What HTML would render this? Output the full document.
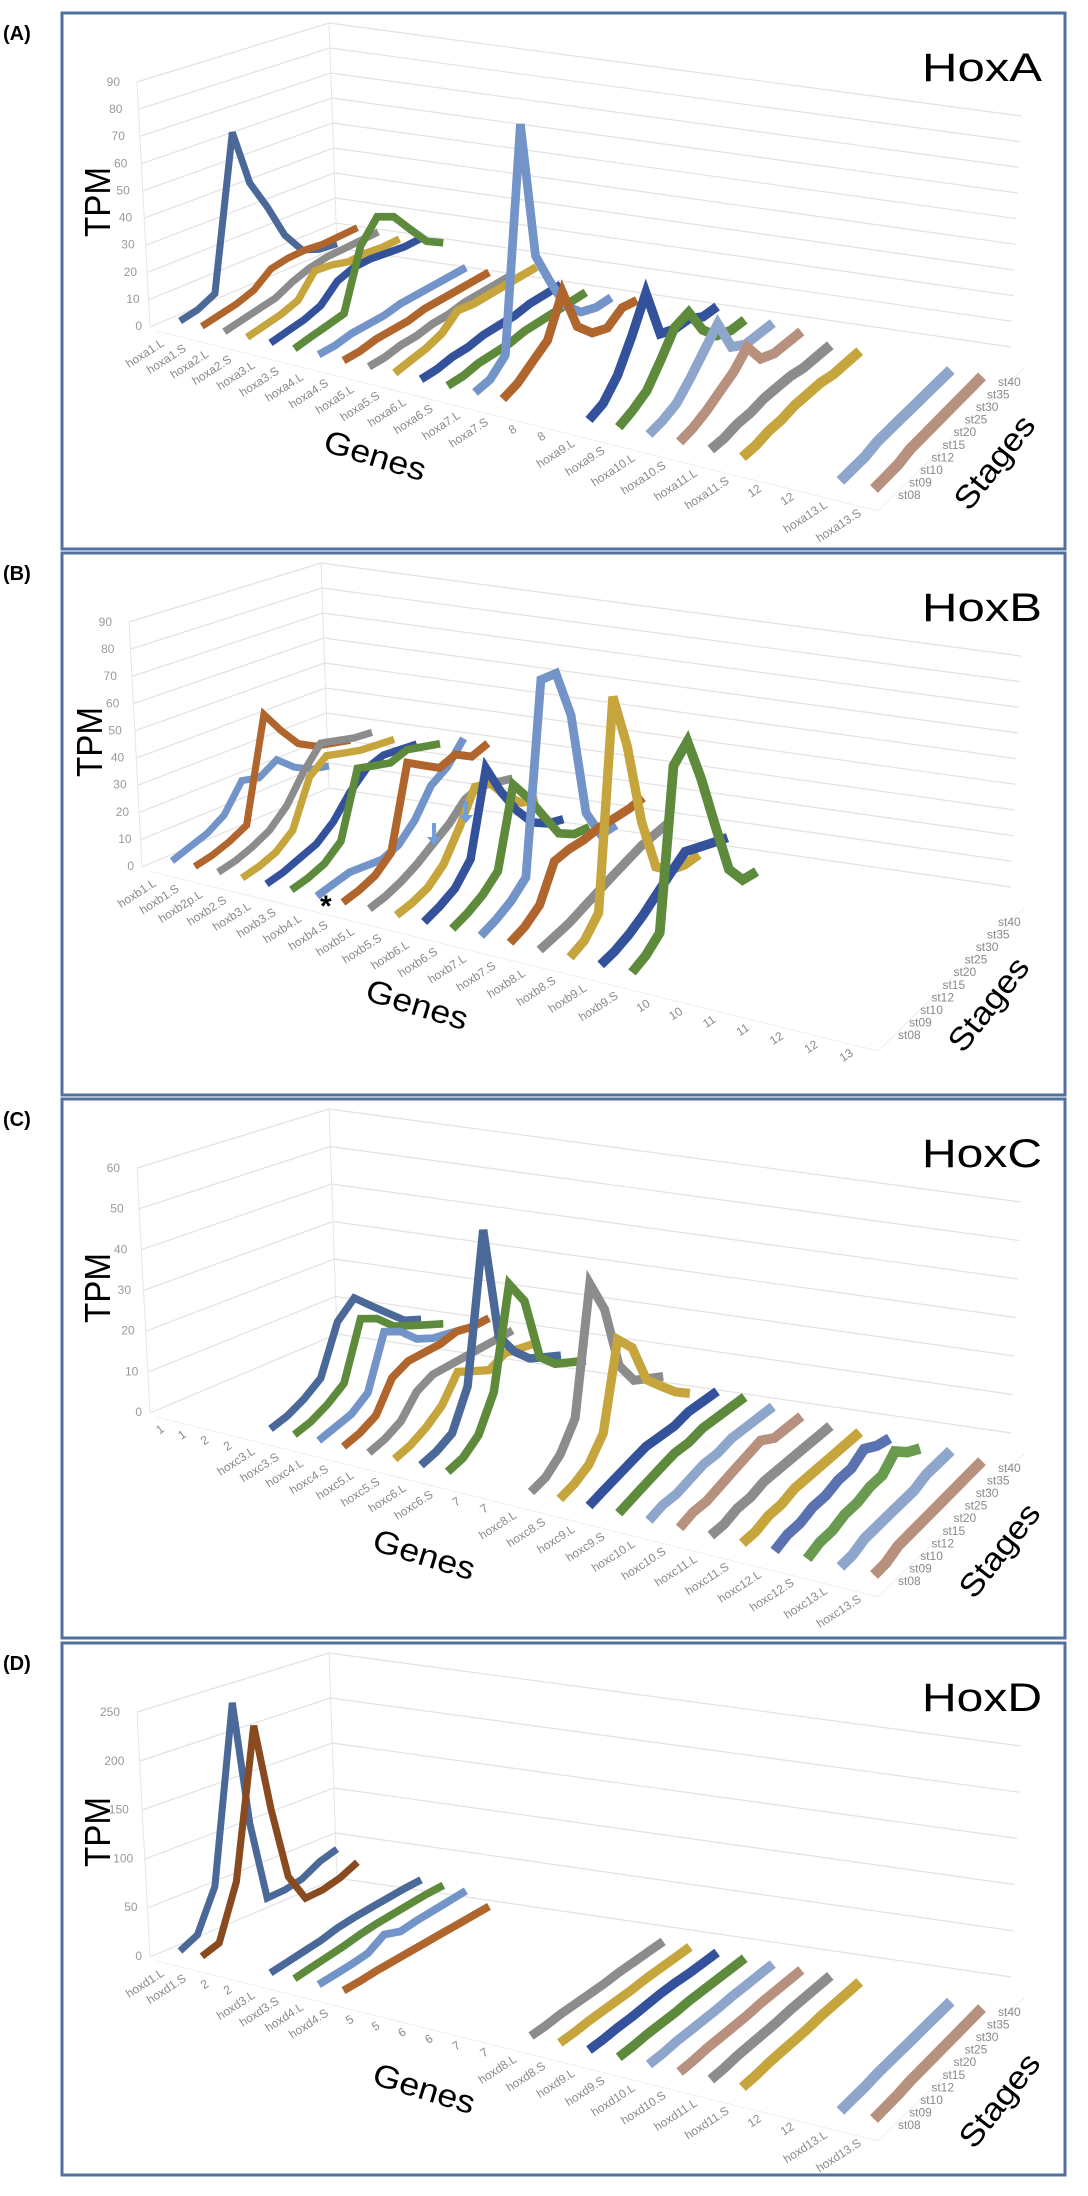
<!DOCTYPE html>
<html><head><meta charset="utf-8">
<style>
html,body{margin:0;padding:0;background:#fff;}
svg{display:block;font-family:"Liberation Sans",sans-serif;}
</style></head>
<body>
<svg id="fig" width="1088" height="2196" viewBox="0 0 1088 2196" xmlns="http://www.w3.org/2000/svg"></svg>
<script>
// ---------- data ----------
const stages = ['st08','st09','st10','st12','st15','st20','st25','st30','st35','st40'];

const genesA = ['hoxa1.L','hoxa1.S','hoxa2.L','hoxa2.S','hoxa3.L','hoxa3.S','hoxa4.L','hoxa4.S','hoxa5.L','hoxa5.S','hoxa6.L','hoxa6.S','hoxa7.L','hoxa7.S','8','8','hoxa9.L','hoxa9.S','hoxa10.L','hoxa10.S','hoxa11.L','hoxa11.S','12','12','hoxa13.L','hoxa13.S'];
const ticksA = [0,10,20,30,40,50,60,70,80,90];
const valuesA = [
 [0,1,4,62,40,28,14,5,2,1],
 [0,1,2,4,9,10,10,9,9,9],
 [0,1,2,3,6,8,9,9,9,9],
 [0,1,2,4,12,11,9,9,8,8],
 [0,1,2,4,10,12,12,11,10,10],
 [0,1,2,3,25,33,30,22,14,10],
 [0,0,1,1,1,2,2,2,2,2],
 [0,0,1,1,1,2,2,2,2,2],
 [0,0,1,1,2,2,3,3,3,3],
 [0,1,2,4,9,8,8,8,8,8],
 [0,0,1,1,2,2,2,3,3,3],
 [0,0,1,1,1,2,2,2,2,2],
 [0,1,6,85,35,22,10,4,2,2],
 [0,2,6,10,24,8,2,0,4,3],
 null,null,
 [0,2,8,18,30,12,10,10,7,7],
 [0,2,5,12,20,22,12,6,4,4],
 [0,1,3,8,14,20,8,5,5,5],
 [0,1,3,6,9,14,6,4,4,4],
 [0,0,1,1,2,2,2,1,1,1],
 [0,0,1,1,2,2,2,1,1,1],
 null,null,
 [0,0,0,1,1,1,1,1,1,1],
 [0,0,0,1,1,1,1,1,1,1]
];

const genesB = ['hoxb1.L','hoxb1.S','hoxb2p.L','hoxb2.S','hoxb3.L','hoxb3.S','hoxb4.L','hoxb4.S','hoxb5.L','hoxb5.S','hoxb6.L','hoxb6.S','hoxb7.L','hoxb7.S','hoxb8.L','hoxb8.S','hoxb9.L','hoxb9.S','10','10','11','11','12','12','13'];
const ticksB = [0,10,20,30,40,50,60,70,80,90];
const valuesB = [
 [0,2,4,8,18,16,20,14,10,8],
 [0,1,3,6,45,36,28,24,22,20],
 [0,1,3,6,12,22,30,28,26,25],
 [0,1,3,8,25,30,28,26,25,24],
 [0,1,3,5,10,18,24,26,25,24],
 [0,1,3,8,32,30,28,30,28,26],
 [0,1,2,1,0,2,8,18,22,30],
 [0,1,3,8,38,34,30,32,28,30],
 [0,1,3,6,10,14,20,22,20,18],
 [0,1,3,8,18,30,28,20,14,12],
 [0,2,5,12,42,30,20,12,8,6],
 [0,2,5,10,38,30,20,10,6,5],
 [0,2,5,10,78,78,60,20,8,8],
 [0,2,6,18,19,19,20,20,20,21],
 [0,1,2,4,6,8,10,12,13,14],
 [0,2,8,80,60,30,10,5,3,3],
 [0,1,3,6,10,14,18,16,14,12],
 [0,2,6,60,66,50,30,10,2,1],
 null,null,null,null,null,null,null
];

const genesC = ['1','1','2','2','hoxc3.L','hoxc3.S','hoxc4.L','hoxc4.S','hoxc5.L','hoxc5.S','hoxc6.L','hoxc6.S','7','7','hoxc8.L','hoxc8.S','hoxc9.L','hoxc9.S','hoxc10.L','hoxc10.S','hoxc11.L','hoxc11.S','hoxc12.L','hoxc12.S','hoxc13.L','hoxc13.S'];
const ticksC = [0,10,20,30,40,50,60];
const valuesC = [
 null,null,null,null,
 [0,1,3,6,18,22,18,14,10,8],
 [0,1,3,6,20,18,14,12,10,8],
 [0,1,2,5,18,16,12,10,9,8],
 [0,1,3,10,12,12,12,13,12,12],
 [0,1,3,8,10,10,10,10,10,10],
 [0,1,3,6,12,10,8,10,9,8],
 [0,1,3,12,48,20,14,10,8,6],
 [0,1,4,12,36,30,14,10,8,6],
 null,null,
 [0,1,4,10,40,32,16,10,8,6],
 [0,1,3,8,28,24,14,10,6,3],
 [0,1,2,3,4,4,4,5,5,5],
 [0,1,2,3,4,4,5,5,5,5],
 [0,1,1,2,3,3,4,4,4,4],
 [0,1,1,2,3,4,5,3,3,3],
 [0,0,1,1,2,2,2,2,2,2],
 [0,0,1,1,2,2,2,2,2,2],
 [0,1,1,2,2,3,3,5,3,2],
 [0,1,1,2,2,3,3,6,3,1],
 [0,0,1,1,1,1,1,2,2,2],
 [0,0,1,1,1,1,1,1,1,1]
];

const genesD = ['hoxd1.L','hoxd1.S','2','2','hoxd3.L','hoxd3.S','hoxd4.L','hoxd4.S','5','5','6','6','7','7','hoxd8.L','hoxd8.S','hoxd9.L','hoxd9.S','hoxd10.L','hoxd10.S','hoxd11.L','hoxd11.S','12','12','hoxd13.L','hoxd13.S'];
const ticksD = [0,50,100,150,200,250];
const valuesD = [
 [0,8,50,235,100,12,12,15,25,30],
 [0,5,60,215,120,40,8,8,12,20],
 null,null,
 [0,2,4,6,10,12,13,14,15,15],
 [0,2,4,6,9,11,12,13,14,14],
 [0,1,2,4,14,8,10,11,12,13],
 [0,0,1,1,1,1,1,1,1,1],
 null,null,null,null,null,null,
 [0,0,1,1,1,1,2,2,2,2],
 [0,0,1,1,1,1,2,2,2,2],
 [0,0,1,1,2,3,3,2,2,2],
 [0,0,1,1,1,2,2,2,2,2],
 [0,0,1,1,1,1,2,2,2,2],
 [0,0,1,1,1,1,2,2,2,2],
 [0,0,1,1,1,1,2,2,2,2],
 [0,0,1,1,1,1,2,2,2,2],
 null,null,
 [0,0,0,1,1,1,1,1,1,1],
 [0,0,0,1,1,1,1,1,1,1]
];

// ---------- styles ----------
const NAVY='#4A6898',ORG='#B0652C',GRY='#8C8C8C',GLD='#C6A53C',BLU='#34529C',GRN='#5E8A3C',LBL='#7394C8',SAL='#B8907E',LB2='#8FA6CC';
const colorsA=[NAVY,ORG,GRY,GLD,BLU,GRN,LBL,ORG,GRY,GLD,BLU,GRN,LBL,ORG,null,null,BLU,GRN,LB2,SAL,GRY,GLD,null,null,LB2,SAL];
const colorsB=[LBL,ORG,GRY,GLD,BLU,GRN,LBL,ORG,GRY,GLD,BLU,GRN,LBL,ORG,GRY,GLD,BLU,GRN];
const colorsC=[null,null,null,null,NAVY,GRN,LBL,ORG,GRY,GLD,NAVY,GRN,null,null,GRY,GLD,BLU,GRN,LB2,SAL,GRY,GLD,'#5A72B0','#6A9A50',LB2,SAL];
const colorsD=[NAVY,'#8A4A20',null,null,NAVY,GRN,LBL,ORG,null,null,null,null,null,null,GRY,GLD,BLU,GRN,LB2,SAL,GRY,GLD,null,null,LB2,SAL];

const panels=[
 {key:'a',label:'(A)',title:'HoxA',top:13,h:536,genes:genesA,vals:valuesA,cols:colorsA,ticks:ticksA,dx:0,genesPos:[372,443],stagesPos:[995,450]},
 {key:'b',label:'(B)',title:'HoxB',top:553,h:542,genes:genesB,vals:valuesB,cols:colorsB,ticks:ticksB,dx:-8,genesPos:[414,452],stagesPos:[989,452]},
 {key:'c',label:'(C)',title:'HoxC',top:1099,h:539,genes:genesC,vals:valuesC,cols:colorsC,ticks:ticksC,dx:0,genesPos:[421,456],stagesPos:[1000,452]},
 {key:'d',label:'(D)',title:'HoxD',top:1643,h:532,genes:genesD,vals:valuesD,cols:colorsD,ticks:ticksD,dx:0,genesPos:[421,446],stagesPos:[1000,458]}
];

// ---------- geometry ----------
const FL=[180,308],FR=[874,476],BL=[337,233],BR=[982,366];
const L0=[165,332],L1=[862,502];
const SV='http://www.w3.org/2000/svg';
const svg=document.getElementById('fig');
function mk(tag,attrs,parent){const e=document.createElementNS(SV,tag);for(const k in attrs)e.setAttribute(k,attrs[k]);(parent||svg).appendChild(e);return e;}
function lerp(a,b,t){return [a[0]+(b[0]-a[0])*t,a[1]+(b[1]-a[1])*t];}
function ln(a,b,t){return a+(b-a)*t;}
function ease(u){return u*0.78+0.22*u*u;}
function project(i,n,s,v,ymax,top,dx){
  const up=ease(i/(n-1));
  const F=lerp(FL,FR,up),B=lerp(BL,BR,up),t=s/(stages.length-1);
  const base=lerp(F,B,t);
  const m=ln(ln(1,1.2,up),ln(0.92,0.95,up),t);
  return [base[0]+dx, top+base[1]-v*m*244/ymax];
}

panels.forEach(p=>{
  const g=mk('g',{});
  
  
  const T=p.top, dx=p.dx;
  const border=mk('rect',{x:62,y:T,width:1003,height:p.h,fill:'none',stroke:'#52709C','stroke-width':3},g);
  
  
  const lab=mk('text',{x:3,y:T+27,'font-size':20,'font-weight':'bold',fill:'#000'},g);
  lab.textContent=p.label;
  
  
  const ttl=mk('text',{x:1042,y:T+68,'font-size':40,'text-anchor':'end',fill:'#000',textLength:120,lengthAdjust:'spacingAndGlyphs'},g);
  ttl.textContent=p.title;
  
  

  const n=p.ticks.length-1, ymax=p.ticks[n];
  const grid=mk('g',{stroke:'#e2e2e2','stroke-width':1.2,fill:'none'},g);
  
  
  p.ticks.forEach((tv,k)=>{
    const f=tv/ymax;
    const pf=lerp([150+dx,T+314],[137+dx,T+69],f);
    const pb=lerp([337+dx,T+235],[329+dx,T+10],f);
    const pr=lerp([1011,T+334],[1021,T+103],f);
    const gl=mk('polyline',{points:pf.join(',')+' '+pb.join(',')+' '+pr.join(',')},grid);
    
    
    const tp=lerp([142+dx,T+317],[120+dx,T+73],f);
    const tl=mk('text',{x:tp[0],y:tp[1],'font-size':12,'text-anchor':'end',fill:'#9a9a9a'},g);
    tl.textContent=tv;
    
    
  });
  const wl=mk('polyline',{points:[[150+dx,T+314],[137+dx,T+69]].join(' ')+'',fill:'none',stroke:'#e6e6e6'},g);
  
  
  const wb=mk('line',{x1:337+dx,y1:T+235,x2:329+dx,y2:T+10,stroke:'#e6e6e6'},g);
  
  
  const fe=mk('polyline',{points:[[157+dx,T+318],[878,T+498],[1024,T+355]].join(' '),fill:'none',stroke:'#eeeeee'},g);
  
  

  const N=p.genes.length;
  p.vals.forEach((row,i)=>{
    if(!row||!p.cols[i])return;
    const pts=row.map((v,s)=>project(i,N,s,v,ymax,T,dx));
    const up=ease(i/(N-1));
    const r=mk('polyline',{points:pts.map(q=>q[0].toFixed(1)+','+q[1].toFixed(1)).join(' '),fill:'none',stroke:p.cols[i],'stroke-width':(7+4*up).toFixed(1),'stroke-linejoin':'miter','stroke-miterlimit':4},g);
    
    
  });

  p.genes.forEach((gn,i)=>{
    const q=lerp(L0,L1,ease(i/(N-1)));
    const x=q[0]+dx, y=T+q[1];
    const t=mk('text',{x:x,y:y,'font-size':12,'text-anchor':'end',fill:'#8a8a8a',transform:'rotate(-33 '+x+' '+y+')'},g);
    t.textContent=gn;
    
    
  });
  stages.forEach((st,s)=>{
    const q=lerp([898,482],[998,369],s/(stages.length-1));
    const t=mk('text',{x:q[0],y:T+q[1]+4,'font-size':12,fill:'#8a8a8a'},g);
    t.textContent=st;
    
    
  });
  const tp=mk('text',{x:0,y:0,'font-size':36,'text-anchor':'middle',fill:'#000',textLength:70,lengthAdjust:'spacingAndGlyphs',transform:'translate('+(98+dx+12)+','+(T+189)+') rotate(-90)'},g);
  tp.textContent='TPM';
  
  
  const ge=mk('text',{x:0,y:0,'font-size':32,'text-anchor':'middle',fill:'#000',textLength:105,lengthAdjust:'spacingAndGlyphs',transform:'translate('+p.genesPos[0]+','+(T+p.genesPos[1]+10)+') rotate(17)'},g);
  ge.textContent='Genes';
  
  
  const sg=mk('text',{x:0,y:0,'font-size':32,'text-anchor':'middle',fill:'#000',textLength:110,lengthAdjust:'spacingAndGlyphs',transform:'translate('+(p.stagesPos[0]+8)+','+(T+p.stagesPos[1]+6)+') rotate(-52)'},g);
  sg.textContent='Stages';
  
  
});
const ast=mk('text',{x:320,y:553+363,'font-size':30,'font-weight':'bold',fill:'#000'});
ast.textContent='*';


[[434,553+292],[466,553+270]].forEach(a=>{
  const ar=mk('path',{d:'M'+(a[0]-2)+','+(a[1]-22)+' L'+(a[0]+2)+','+(a[1]-22)+' L'+(a[0]+2)+','+(a[1]-8)+' L'+(a[0]+7)+','+(a[1]-8)+' L'+a[0]+','+a[1]+' L'+(a[0]-7)+','+(a[1]-8)+' L'+(a[0]-2)+','+(a[1]-8)+' Z',fill:'#6f9fdc'});
  
  
});
</script>
</body></html>
